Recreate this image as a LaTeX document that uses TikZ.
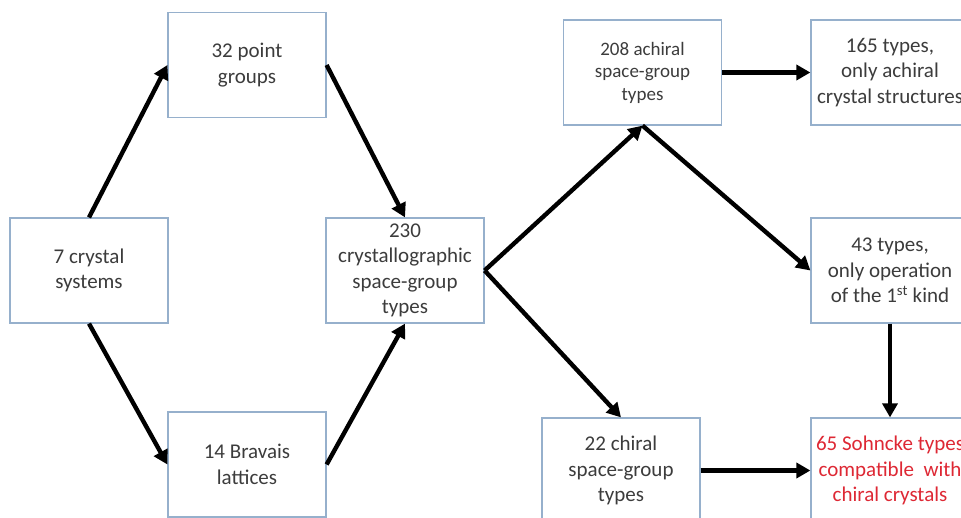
\documentclass[tikz,border=0pt]{standalone}
\usepackage{fontspec}
\setmainfont{Carlito}
\usetikzlibrary{arrows.meta}
\definecolor{boxline}{RGB}{150,176,204}
\definecolor{boxtext}{RGB}{60,60,60}
\definecolor{hilite}{RGB}{222,40,52}
\begin{document}
\begin{tikzpicture}[x=1pt,y=-1pt,
  box/.style={draw=boxline,line width=1.2pt,fill=white,text=boxtext,
    minimum width=158pt,minimum height=105pt,inner sep=0pt,align=center,
    font=\fontsize{21}{25.5}\selectfont},
  smallbox/.style={box,font=\fontsize{19}{22.5}\selectfont},
  flow/.style={line width=4.4pt,-{Triangle[length=14pt,width=15pt]},black}]
\useasboundingbox (0,0) rectangle (961,518);
\clip (0,0) rectangle (961,518);
% boxes, left to right
\node[box] (sys)   at (89,270.5)  {7 crystal\\systems};
\node[box] (pg)    at (247,65)    {32 point\\groups};
\node[box] (brav)  at (247,464.5) {14 Bravais\\lattices};
\node[box] (sg)    at (405,270.5) {230\\crystallographic\\space-group\\types};
\node[smallbox] (ach) at (642.5,72.5) {208 achiral\\space-group\\types};
\node[box] (chi)   at (621,470.5) {22 chiral\\space-group\\types};
\node[box] (only)  at (890,72.5)  {165 types,\\only achiral\\crystal structures};
\node[box] (first) at (890,270.5) {43 types,\\only operation\\of the 1\textsuperscript{st} kind};
\node[box,text=hilite] (sohn) at (890,470.5) {65 Sohncke types\\compatible\ \ with\\chiral crystals};
% connectors
\draw[flow] (sys.north) -- (pg.west);
\draw[flow] (sys.south) -- (brav.west);
\draw[flow] (pg.east) -- (sg.north);
\draw[flow] (brav.east) -- (sg.south);
\draw[flow] (sg.east) -- (ach.south);
\draw[flow] (sg.east) -- (chi.north);
\draw[flow] (ach.east) -- (only.west);
\draw[flow] (ach.south) -- (first.west);
\draw[flow] (chi.east) -- (sohn.west);
\draw[flow] (first.south) -- (sohn.north);
\end{tikzpicture}
\end{document}
